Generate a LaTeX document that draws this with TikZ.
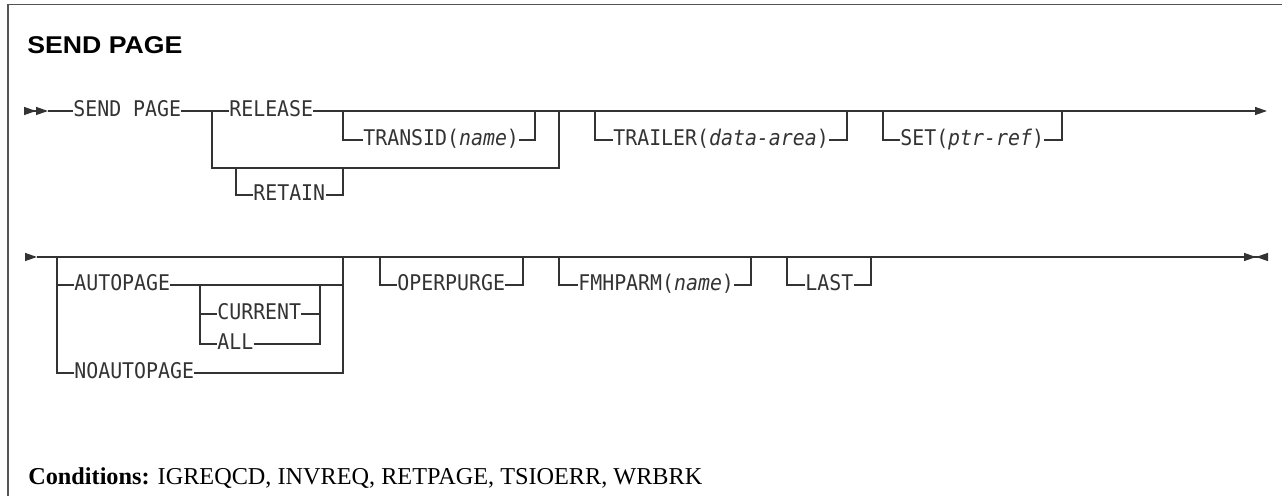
\documentclass[tikz,border=0pt]{standalone}
\usepackage{fontspec}
\usepackage{graphicx}
\usepackage{tikz}
\usetikzlibrary{positioning, arrows.meta}
\setmainfont{Liberation Serif}
\newfontfamily\synfont[FakeStretch=0.92]{DejaVu Sans Mono}
\newfontfamily\headfont{Liberation Sans}
\newfontfamily\condfont{Liberation Serif}
\definecolor{railgray}{HTML}{333333}
\definecolor{framegray}{HTML}{555555}

\begin{document}
\begin{tikzpicture}[
  x=0.02cm, y=-0.02cm,
  rail/.style={draw=railgray, line width=0.75pt},
  kw/.style={font=\synfont\fontsize{12.3}{14}\selectfont, text=railgray, anchor=west,
             inner sep=0pt, text height=0.32cm, text depth=0.08cm},
  frameline/.style={draw=framegray, line width=1pt}
]
  \useasboundingbox (0,0) rectangle (1282,496);
  \draw[frameline] (8,496) -- (8,4.5) -- (1282,4.5);

  \node[anchor=base west, inner sep=0pt, text=black,
        font=\headfont\bfseries\fontsize{13.8}{16}\selectfont] (title) at (27,54)
        {\scalebox{1.1}[1]{SEND PAGE}};

  % first line
  \coordinate (r1s) at (25,111);
  \coordinate (r1a) at (48,111);
  \coordinate (r1end) at (1267,111);
  \node[kw] (sendpage) at (73,111) {SEND PAGE};
  \node[kw] (release) at (229,111) {RELEASE};
  \node[kw] (transid) at (363,140) {TRANSID(\textit{name})};
  \node[kw] (retain) at (253,195) {RETAIN};
  \node[kw] (trailer) at (613,140) {TRAILER(\textit{data-area})};
  \node[kw] (setref) at (900,140) {SET(\textit{ptr-ref})};

  \draw[rail, -{Triangle[length=0.24cm,width=0.16cm]Triangle[length=0.24cm,width=0.16cm]}] (r1s) -- (r1a);
  \draw[rail] (r1a) -- (sendpage.west);
  \draw[rail] (sendpage.east) -- (release.west);
  \draw[rail, -{Triangle[length=0.24cm,width=0.16cm]}] (release.east) -- (r1end);

  \coordinate (g1l) at (212,111);
  \coordinate (g1r) at (559,111);
  \coordinate (g1rb) at (559,168);
  \draw[rail] (g1l) |- (g1rb) -- (g1r);
  \coordinate (rt-in) at (236,168);
  \coordinate (rt-out) at (343,168);
  \draw[rail] (rt-in) |- (retain.west);
  \draw[rail] (retain.east) -| (rt-out);

  \foreach \n/\a/\b in {transid/343/535, trailer/595/847, setref/883/1062}{
    \coordinate (\n-in) at (\a,111);
    \coordinate (\n-out) at (\b,111);
    \draw[rail] (\n-in) |- (\n.west);
    \draw[rail] (\n.east) -| (\n-out);
  }

  % second line
  \coordinate (r2s) at (25,257);
  \coordinate (r2a) at (37,257);
  \coordinate (r2end) at (1268,257);
  \node[kw] (autopage) at (74,285) {AUTOPAGE};
  \node[kw] (current) at (217,314) {CURRENT};
  \node[kw] (all) at (217,344) {ALL};
  \node[kw] (noautopage) at (74,373) {NOAUTOPAGE};
  \node[kw] (operpurge) at (397,285) {OPERPURGE};
  \node[kw] (fmhparm) at (578,285) {FMHPARM(\textit{name})};
  \node[kw] (last) at (805,285) {LAST};

  \draw[rail, -{Triangle[length=0.24cm,width=0.16cm]}] (r2s) -- (r2a);
  \draw[rail, -{Triangle[length=0.24cm,width=0.16cm]Triangle[length=0.24cm,width=0.16cm,reversed]}] (r2a) -- (r2end);

  \coordinate (g2l) at (57,257);
  \coordinate (g2r) at (343,257);
  \draw[rail] (g2l) |- (noautopage.west);
  \draw[rail] (noautopage.east) -| (g2r);
  \draw[rail] (g2l |- autopage.west) -- (autopage.west);
  \draw[rail] (autopage.east) -- (autopage.east -| g2r);

  \coordinate (g3l) at (200,285);
  \coordinate (g3r) at (320,285);
  \draw[rail] (g3l) |- (all.west);
  \draw[rail] (g3l |- current.west) -- (current.west);
  \draw[rail] (current.east) -- (current.east -| g3r);
  \draw[rail] (all.east) -| (g3r);

  \foreach \n/\a/\b in {operpurge/380/523, fmhparm/559/751, last/787/871}{
    \coordinate (\n-in) at (\a,257);
    \coordinate (\n-out) at (\b,257);
    \draw[rail] (\n-in) |- (\n.west);
    \draw[rail] (\n.east) -| (\n-out);
  }
  \coordinate (d1) at (876,257);
  \coordinate (d2) at (900,257);
  \draw[rail, line width=1.5pt] (d1) -- (d2);

  \node[anchor=base west, inner sep=0pt, text=black,
        font=\condfont\fontsize{13.8}{16}\selectfont] (conds) at (28,485)
        {\textbf{Conditions:} IGREQCD, INVREQ, RETPAGE, TSIOERR, WRBRK};
\end{tikzpicture}
\end{document}
